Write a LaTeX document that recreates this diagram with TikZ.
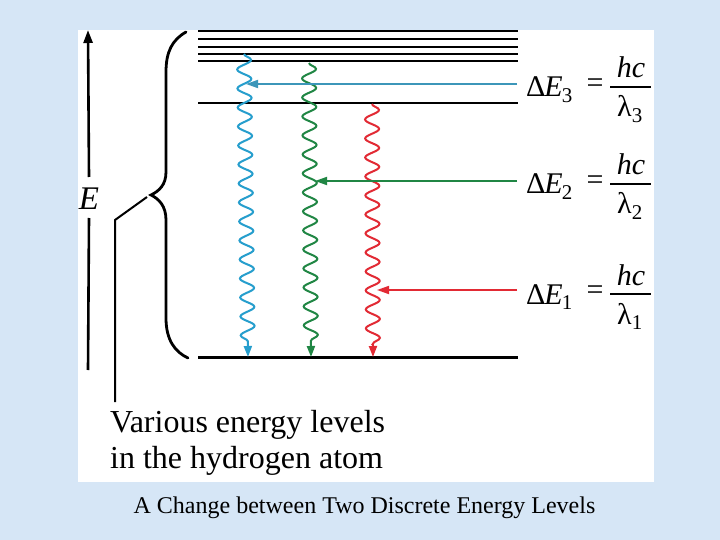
\documentclass[tikz,border=0pt]{standalone}
\usepackage{fontspec}
\setmainfont{Liberation Serif}
\usetikzlibrary{arrows.meta,decorations.pathmorphing}
\definecolor{bgblue}{RGB}{214,230,246}
\definecolor{wcyan}{RGB}{38,158,205}
\definecolor{hcyan}{RGB}{60,150,185}
\definecolor{wgreen}{RGB}{32,134,68}
\definecolor{wred}{RGB}{226,42,52}
\begin{document}
\begin{tikzpicture}[x=1pt,y=-1pt,
  lvl/.style={line width=2.4pt, black},
  wave/.style={line width=2pt, decorate,
    decoration={snake, segment length=19pt, amplitude=7pt, post length=12pt},
    -{Triangle[length=11pt,width=8pt]}},
  habs/.style={line width=1.7pt, -{Triangle[length=12pt,width=8pt]}},
  txt/.style={inner sep=0pt, anchor=base west},
  eqf/.style={inner sep=0pt, font=\fontsize{30}{30}\selectfont},
  bigf/.style={inner sep=0pt, font=\fontsize{32}{36}\selectfont}]
\useasboundingbox (0,0) rectangle (720,540);
\fill[bgblue] (0,0) rectangle (720,540);
\fill[white] (78,30) rectangle (654,482);

% energy levels
\foreach \yy in {31,39,47,54,61} {\draw[lvl] (198,\yy) -- (518,\yy);}
\draw[line width=2pt] (198,103) -- (518,103);
\draw[line width=3pt] (198,357.5) -- (518,357.5);

% E axis
\node[bigf, font=\fontsize{33}{36}\selectfont\itshape] (Elab) at (89,199) {E};
\coordinate (Etop) at (88,30);
\coordinate (Ebot) at (88,370);
\draw[line width=2.6pt, -{Triangle[length=13pt,width=9pt]}] (Elab.north |- 0,177) -- (Etop);
\draw[line width=2.6pt] (Elab.south |- 0,218) -- (Ebot);

% brace
\coordinate (btip) at (151,195);
\draw[line width=2.8pt, line cap=round]
  (186,32) .. controls (172,40) and (166,52) .. (166,72) -- (166,172)
  .. controls (166,185) and (159,191) .. (btip)
  .. controls (159,199) and (166,206) .. (166,220) -- (166,318)
  .. controls (166,340) and (175,352) .. (188,358);

% pointer to label
\coordinate (pbend) at (115,220);
\coordinate (pend) at (115,402);
\draw[line width=2pt] (147,197) -- (pbend) -- (pend);
\node[bigf, txt] (lab1) at (110,432) {Various energy levels};
\node[bigf, txt] (lab2) at (110,468) {in the hydrogen atom};

% emission waves
\coordinate (c1) at (244,54);  \coordinate (c1b) at (248,357);
\coordinate (g1) at (309,63);  \coordinate (g1b) at (311,357);
\coordinate (r1) at (372,104); \coordinate (r1b) at (373,357);
\draw[wave, wcyan] (c1) -- (c1b);
\draw[wave, wgreen] (g1) -- (g1b);
\draw[wave, wred] (r1) -- (r1b);

% absorption arrows
\coordinate (ca) at (517,84);  \coordinate (cb) at (246,84);
\coordinate (ga) at (517,181); \coordinate (gb) at (315,181);
\coordinate (ra) at (517,290); \coordinate (rb) at (377,290);
\draw[habs, hcyan] (ca) -- (cb);
\draw[habs, wgreen] (ga) -- (gb);
\draw[habs, wred] (ra) -- (rb);

% equations
\foreach \k/\dy in {3/0,2/97,1/207} {
  \node[eqf, txt] (dE\k) at (526,97+\dy) {Δ\kern-1pt\textit{E}\kern-1pt\textsubscript{\k}};
  \node[eqf] (eq\k) at (595,86+\dy) {=};
  \draw[line width=1.3pt] (610,87+\dy) -- (651,87+\dy);
  \node[eqf, anchor=base] (hc\k) at (631,78+\dy) {\textit{hc}};
  \node[eqf, anchor=base] (la\k) at (630,117+\dy) {λ\textsubscript{\k}};
}

% caption
\node[inner sep=0pt, anchor=base, font=\fontsize{24}{28}\selectfont] (cap) at (364.5,513) {A Change between Two Discrete Energy Levels};
\end{tikzpicture}
\end{document}
